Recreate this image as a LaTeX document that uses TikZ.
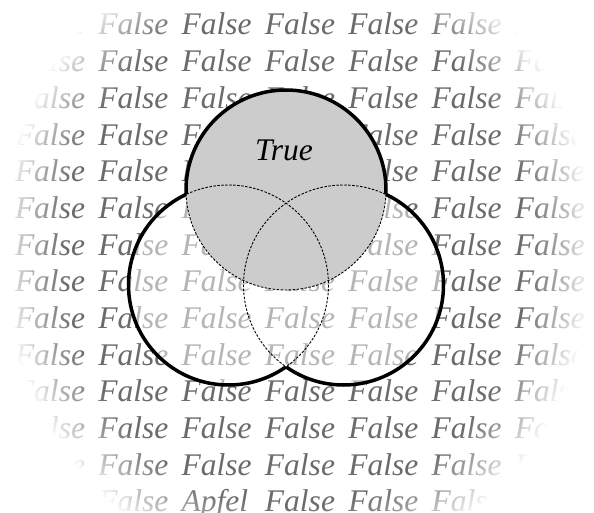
\documentclass[tikz,border=0pt]{standalone}
\usepackage{fontspec}
\setmainfont{Liberation Serif}
\tikzset{
  word/.style={anchor=base west, inner sep=0pt, outer sep=0pt, text=black!58, font=\fontsize{31.5}{36}\selectfont\itshape},
  label/.style={anchor=base, inner sep=0pt, text=black, font=\fontsize{31.5}{36}\selectfont\itshape},
  dashedcircle/.style={draw=black, line width=0.9pt, dash pattern=on 2.5pt off 1.5pt},
  outline/.style={draw=black, line width=3.5pt},
}
\begin{document}
\begin{tikzpicture}[x=1pt, y=-1pt]
\useasboundingbox (0,0) rectangle (594,513);
\fill[white] (0,0) rectangle (594,513);
% background words
\foreach \r in {1,...,14} {
  \foreach \c in {0,...,6} {
    \ifnum\r=14 \ifnum\c=2 \def\wordtxt{Apfel}\else\def\wordtxt{False}\fi\else\def\wordtxt{False}\fi
    \node[word] (w\r-\c) at ({15+83.33*\c},{35+36.67*(\r-1)}) {\wordtxt};
  }
}
% vignette: stacked white layers, elliptic fade
\coordinate (fc) at (297,250);
\foreach \k in {0,...,39} {
  \pgfmathsetmacro\sf{0.78+0.0055*(\k+1)}
  \pgfmathsetmacro\rx{296*\sf}
  \pgfmathsetmacro\ry{327*\sf}
  \pgfmathsetmacro\op{1/(40-\k)}
  \fill[white, fill opacity=\op, even odd rule] (-20,-20) rectangle (614,533) (fc) ellipse[x radius=\rx, y radius=\ry];
}
% circles
\coordinate (T) at (286,190);
\coordinate (L) at (228.5,285);
\coordinate (R) at (343.5,285);
\fill[white, fill opacity=0.5] (L) circle[radius=100] (R) circle[radius=100];
\fill[black!20] (T) circle[radius=100];
\draw[dashedcircle] (T) circle[radius=100];
\draw[dashedcircle] (L) circle[radius=100];
\draw[dashedcircle] (R) circle[radius=100];
\begin{scope}[even odd rule]
  \clip (-1000,-1000) rectangle (2000,2000) (L) circle[radius=100];
  \clip (-1000,-1000) rectangle (2000,2000) (R) circle[radius=100];
  \draw[outline] (T) circle[radius=100];
\end{scope}
\begin{scope}[even odd rule]
  \clip (-1000,-1000) rectangle (2000,2000) (T) circle[radius=100];
  \clip (-1000,-1000) rectangle (2000,2000) (R) circle[radius=100];
  \draw[outline] (L) circle[radius=100];
\end{scope}
\begin{scope}[even odd rule]
  \clip (-1000,-1000) rectangle (2000,2000) (T) circle[radius=100];
  \clip (-1000,-1000) rectangle (2000,2000) (L) circle[radius=100];
  \draw[outline] (R) circle[radius=100];
\end{scope}
\node[label] (truelbl) at (284,161) {True};
\end{tikzpicture}
\end{document}
